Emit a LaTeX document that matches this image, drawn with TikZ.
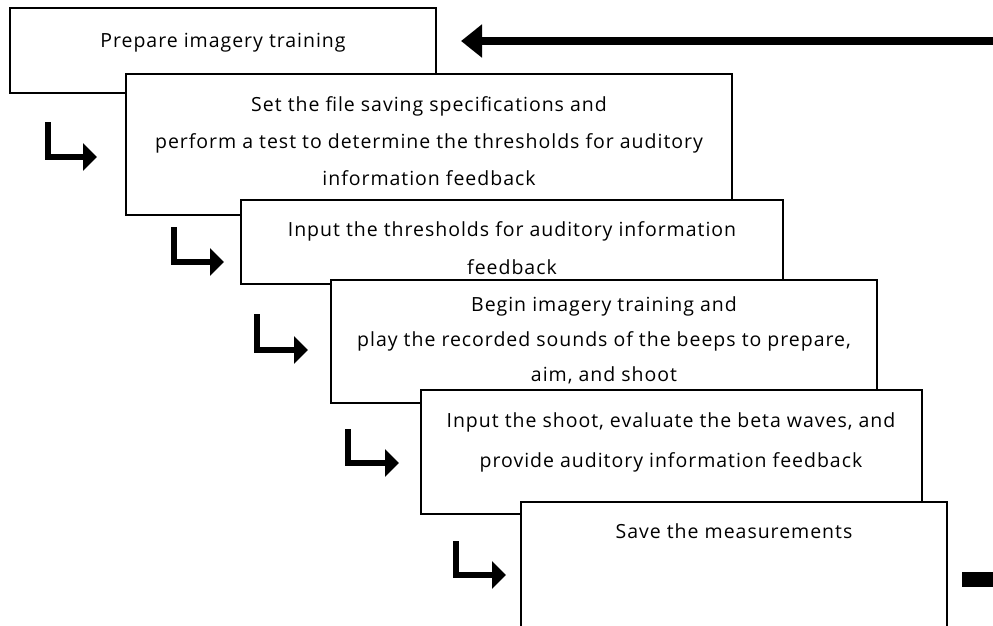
\documentclass[tikz,border=0pt]{standalone}
\usepackage{fontspec}
\setmainfont{Open Sans}[LetterSpace=5]
\usetikzlibrary{arrows.meta}
\begin{document}
\begin{tikzpicture}[x=1pt,y=-1pt,
  box/.style={draw=black, line width=1.6pt, fill=white, anchor=north west, inner sep=0pt, outer sep=0pt},
  txt/.style={anchor=base, inner sep=0pt, font=\fontsize{19.5}{22}\selectfont},
  bent/.style={line width=6pt, line join=miter, -{Triangle[length=14pt,width=27pt]}},
  bigarrow/.style={line width=8.5pt, -{Triangle[length=21pt,width=32pt]}}]
\useasboundingbox (0,0) rectangle (993,625);
\clip (0,0) rectangle (993,625);
% boxes
\node[box, minimum width=426pt, minimum height=85pt] (b1) at (10,8) {};
\node[box, minimum width=606pt, minimum height=141pt] (b2) at (126,74) {};
\node[box, minimum width=542pt, minimum height=84pt] (b3) at (241,200) {};
\node[box, minimum width=546pt, minimum height=123pt] (b4) at (331,280) {};
\node[box, minimum width=501pt, minimum height=124pt] (b5) at (421,390) {};
\node[box, minimum width=426pt, minimum height=160pt] (b6) at (521,502) {};
% texts
\node[txt] (t1) at (223,47) {Prepare imagery training};
\node[txt] (t2a) at (429,111) {Set the file saving specifications and};
\node[txt] (t2b) at (429,148) {perform a test to determine the thresholds for auditory};
\node[txt] (t2c) at (429,185) {information feedback};
\node[txt] (t3a) at (512,236) {Input the thresholds for auditory information};
\node[txt] (t3b) at (512,274) {feedback};
\node[txt] (t4a) at (604,311) {Begin imagery training and};
\node[txt] (t4b) at (604,346) {play the recorded sounds of the beeps to prepare,};
\node[txt] (t4c) at (604,381) {aim, and shoot};
\node[txt] (t5a) at (671,427) {Input the shoot, evaluate the beta waves, and};
\node[txt] (t5b) at (671,467) {provide auditory information feedback};
\node[txt] (t6) at (734,538) {Save the measurements};
% top arrow
\coordinate (ts) at (993,41);
\coordinate (te) at (461,41);
\draw[bigarrow] (ts) -- (te);
% bent arrows
\coordinate (a1s) at (47.5,122); \coordinate (a1e) at (97,157);
\coordinate (a2s) at (174,227);  \coordinate (a2e) at (224,262);
\coordinate (a3s) at (257,314);  \coordinate (a3e) at (308,350);
\coordinate (a4s) at (348,429);  \coordinate (a4e) at (399,463);
\coordinate (a5s) at (455.5,541); \coordinate (a5e) at (506,575);
\foreach \i in {1,...,5}{\draw[bent] (a\i s) |- (a\i e);}
% bottom right stub
\coordinate (bs) at (962,572);
\coordinate (be) at (993,587);
\fill[black] (bs) rectangle (be);
\end{tikzpicture}
\end{document}
